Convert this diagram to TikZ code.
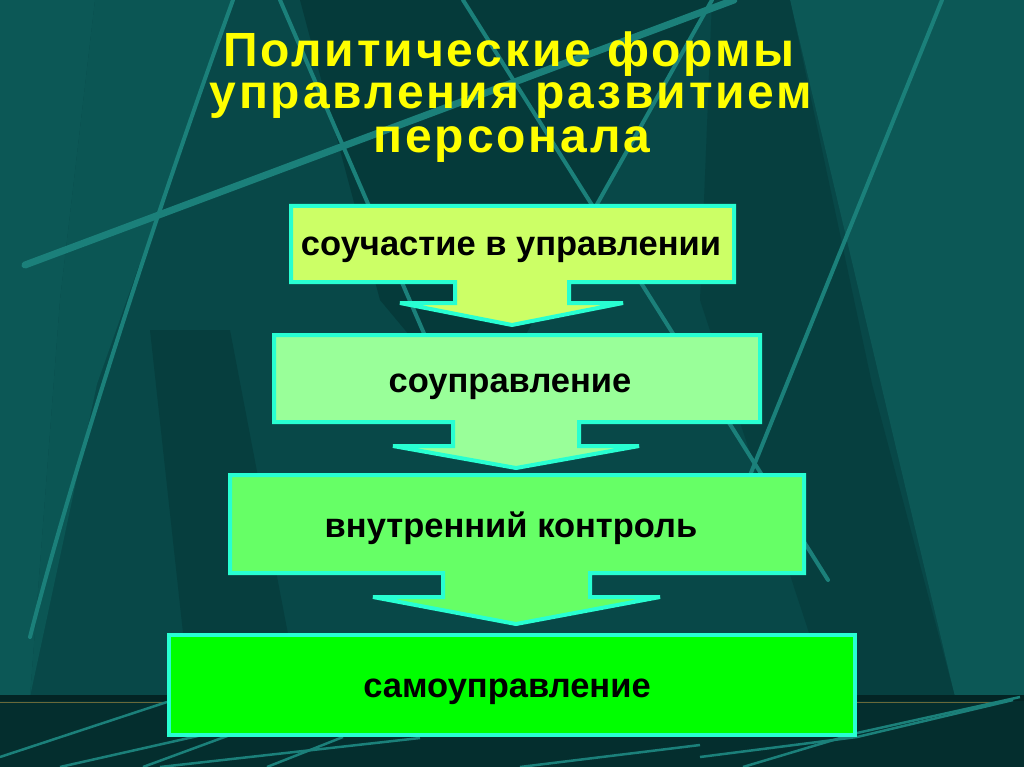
\documentclass[tikz,border=0pt]{standalone}
\usepackage{fontspec}
\setmainfont{Liberation Sans}
\newfontfamily\titlefont[LetterSpace=6]{Liberation Sans}
\definecolor{baseC}{RGB}{8,72,72}
\definecolor{lightC}{RGB}{12,88,86}
\definecolor{darkC}{RGB}{5,58,58}
\definecolor{lineC}{RGB}{27,128,122}
\definecolor{floorC}{RGB}{4,46,46}
\definecolor{horizonC}{RGB}{3,36,36}
\definecolor{oliveC}{RGB}{105,105,58}
\definecolor{borderC}{RGB}{40,255,210}
\definecolor{fillA}{RGB}{204,255,102}
\definecolor{fillB}{RGB}{153,255,153}
\definecolor{fillC}{RGB}{102,255,102}
\definecolor{fillD}{RGB}{0,255,0}
\definecolor{titleC}{RGB}{255,255,0}
\begin{document}
\begin{tikzpicture}[x=1pt,y=-1pt,
  bgline/.style={draw=lineC, line width=4pt, line cap=round},
  floorline/.style={draw=lineC, line width=2.5pt},
  flowshape/.style={draw=borderC, line width=4pt, line join=miter},
  boxtext/.style={font=\fontsize{34.5}{40}\selectfont\bfseries, text=black, anchor=base, inner sep=0pt},
  titletext/.style={font=\titlefont\fontsize{48}{43}\selectfont\bfseries, text=titleC, anchor=base, inner sep=0pt}]
\useasboundingbox (0,0) rectangle (1024,767);
% background
\fill[baseC] (0,0) rectangle (1024,767);
\fill[lightC] (0,0) -- (95,0) -- (60,300) -- (30,697) -- (0,697) -- cycle;
\fill[lightC!85!baseC] (95,0) -- (233,0) -- (97,384) -- (30,697) -- (60,300) -- cycle;
\fill[darkC] (300,0) -- (712,0) -- (602,193) -- (480,420) -- (380,300) -- cycle;
\fill[darkC!70!baseC] (150,330) -- (230,330) -- (300,697) -- (190,697) -- cycle;
\fill[lightC] (790,0) -- (1024,0) -- (1024,697) -- (955,697) -- cycle;
\fill[darkC!60!baseC] (712,0) -- (790,0) -- (872,384) -- (955,697) -- (830,697) -- (700,300) -- cycle;
% background lines
\draw[bgline, line width=7pt] (25,265) -- (734,0);
\draw[bgline] (233,0) .. controls (150,230) and (70,480) .. (30,637);
\draw[bgline] (280,0) -- (470,440);
\draw[bgline] (463,0) -- (828,580);
\draw[bgline] (712,0) -- (560,270);
\draw[bgline] (942,0) -- (740,500);
% floor
\fill[floorC] (0,697) rectangle (1024,767);
\fill[horizonC] (0,695) rectangle (1024,701);
\draw[oliveC, line width=1.5pt] (0,702.5) -- (1000,702.5);
\draw[floorline] (0,757) -- (167,702);
\draw[floorline] (60,767) -- (260,722);
\draw[floorline] (143,767) -- (230,735);
\draw[floorline] (267,767) -- (343,737);
\draw[floorline] (160,767) -- (420,738);
\draw[floorline] (520,767) -- (700,745);
\draw[floorline] (700,757) -- (857,737) -- (1013,700);
\draw[floorline] (743,767) -- (857,733) -- (1020,697);
% flow shapes
\filldraw[flowshape, fill=fillA] (291,206) -- (734,206) -- (734,282) -- (569,282) -- (569,303) -- (623,303) -- (512,325) -- (400,303) -- (455,303) -- (455,282) -- (291,282) -- cycle;
\filldraw[flowshape, fill=fillB] (274,335) -- (760,335) -- (760,422) -- (579,422) -- (579,446) -- (639,446) -- (516,468) -- (393,446) -- (453,446) -- (453,422) -- (274,422) -- cycle;
\filldraw[flowshape, fill=fillC] (230,475) -- (804,475) -- (804,573) -- (590,573) -- (590,597) -- (660,597) -- (516,624) -- (373,597) -- (443,597) -- (443,573) -- (230,573) -- cycle;
\filldraw[flowshape, fill=fillD] (169,635) rectangle (855,735);
% texts
\node[titletext] (t1) at (509,67) {Политические формы};
\node[titletext] (t2) at (511,109) {управления развитием};
\node[titletext] (t3) at (512,153) {персонала};
\node[boxtext] (b1) at (511,255) {соучастие в управлении};
\node[boxtext] (b2) at (510,392) {соуправление};
\node[boxtext] (b3) at (511,537) {внутренний контроль};
\node[boxtext] (b4) at (507,697) {самоуправление};
\end{tikzpicture}
\end{document}
